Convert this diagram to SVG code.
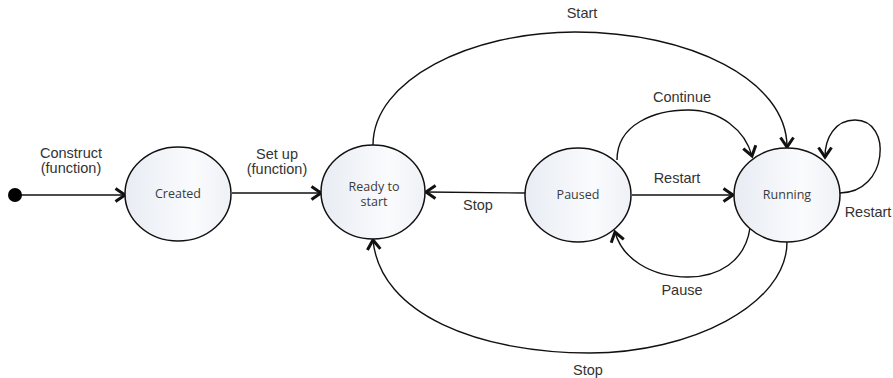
<svg xmlns="http://www.w3.org/2000/svg" width="893" height="378" viewBox="0 0 893 378">
<style>
.node{stroke:#111;stroke-width:1.5;fill:url(#g)}
.nt{font-family:"Open Sans","Noto Sans",sans-serif;font-size:12.5px;fill:#3a3a3a;text-anchor:middle}
.el{font-family:"Liberation Sans",Arial,sans-serif;font-size:14.5px;fill:#333;text-anchor:middle}
.edge{fill:none;stroke:#111;stroke-width:1.4;marker-end:url(#arr)}
</style>
<defs>
<linearGradient id="g" x1="0" y1="0" x2="1" y2="0">
<stop offset="0" stop-color="#e8ecf3"/>
<stop offset="0.65" stop-color="#fafbfd"/>
<stop offset="1" stop-color="#eff1f6"/>
</linearGradient>
<marker id="arr" markerUnits="userSpaceOnUse" markerWidth="16" markerHeight="18" refX="11" refY="8" orient="auto">
<path d="M1.5,1.5 L11,8 L1.5,14.5" fill="none" stroke="#111" stroke-width="3" stroke-linejoin="miter"/>
</marker>
</defs>
<g id="connectors">
<path class="edge" d="M15,195 L125,195"/>
<path class="edge" d="M232,193 L321,193"/>
<path class="edge" d="M525,193 L426,192"/>
<path class="edge" d="M632,195 L733,195"/>
<path class="edge" d="M373,145 C373,80 470,32 575,32 C690,32 787,80 787,147"/>
<path class="edge" d="M617,160 C617,124 655,110 688,110 C720,110 745,130 752,156"/>
<path class="edge" d="M750,228 C745,262 718,277 688,277 C650,277 622,258 615,232"/>
<path class="edge" d="M787,242 C787,305 690,353 590,353 C480,353 380,315 373,240"/>
<path class="edge" d="M840,193 C888,193 893,120 855,120 C835,120 825,138 825,157"/>
</g>
<g id="labels">
<text class="el" x="71" y="158">Construct</text>
<text class="el" x="71" y="173">(function)</text>
<text class="el" x="277" y="159">Set up</text>
<text class="el" x="277" y="174">(function)</text>
<text class="el" x="478" y="210">Stop</text>
<text class="el" x="677" y="183">Restart</text>
<text class="el" x="582" y="18">Start</text>
<text class="el" x="682" y="102">Continue</text>
<text class="el" x="682" y="295">Pause</text>
<text class="el" x="588" y="375">Stop</text>
<text class="el" x="868" y="217">Restart</text>
</g>
<g id="initial"><circle cx="15" cy="195" r="7" fill="#000"/></g>
<g id="created"><ellipse class="node" cx="178" cy="194" rx="53" ry="47"/><text class="nt" x="178" y="198">Created</text></g>
<g id="ready"><ellipse class="node" cx="373" cy="192" rx="52" ry="47"/><text class="nt" x="374" y="190.5">Ready to</text><text class="nt" x="374" y="206">start</text></g>
<g id="paused"><ellipse class="node" cx="578" cy="195" rx="53" ry="47"/><text class="nt" x="578" y="199">Paused</text></g>
<g id="running"><ellipse class="node" cx="787" cy="195" rx="53" ry="47"/><text class="nt" x="787" y="199">Running</text></g>
</svg>
